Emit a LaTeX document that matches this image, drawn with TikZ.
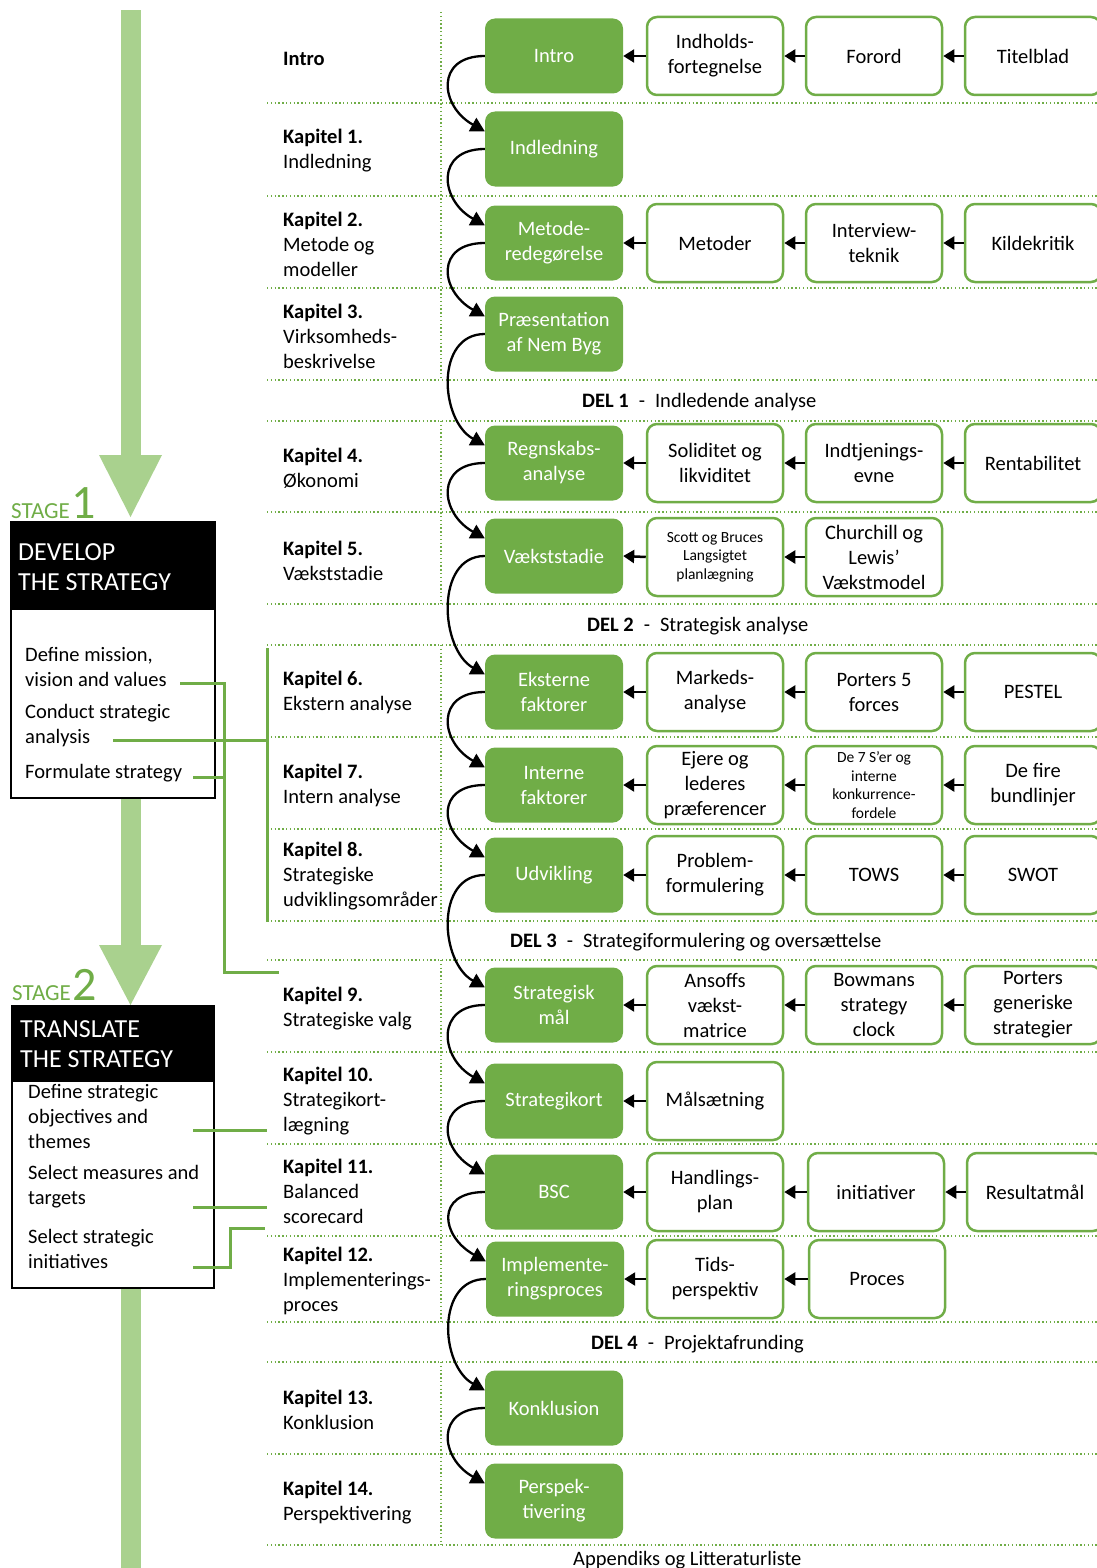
\documentclass[tikz,border=0pt]{standalone}
\usepackage{fontspec}
\setmainfont{Carlito}
\usetikzlibrary{arrows.meta,calc}
\definecolor{G}{HTML}{70AD47}
\definecolor{LG}{HTML}{A9D18E}

\begin{document}
\begin{tikzpicture}[x=1pt,y=-1pt,
  every node/.style={font=\fontsize{20.5}{25}\selectfont},
  gbox/.style={rectangle,rounded corners=10pt,fill=G,text=white,minimum width=138pt,minimum height=75pt,align=center,inner sep=0pt},
  wbox/.style={rectangle,rounded corners=10pt,draw=G,line width=2.5pt,fill=white,minimum width=136pt,minimum height=78pt,align=center,inner sep=0pt},
  smalltext/.style={font=\fontsize{15.5}{18.5}\selectfont},
  chap/.style={anchor=west,align=left,inner sep=0pt},
  dotline/.style={G,line width=1.8pt,dash pattern=on 1.4pt off 2.4pt},
  link/.style={G,line width=3pt},
  harr/.style={line width=2.5pt,-{Triangle[length=11pt,width=13pt]}},
  carr/.style={line width=2.3pt,-{Triangle[length=14pt,width=15pt]}},
  stagebox/.style={draw=black,line width=2pt},
  headtext/.style={anchor=base west,text=white,inner sep=0pt,font=\fontsize{26}{30}\selectfont},
  stagetxt/.style={anchor=base west,text=G,inner sep=0pt,font=\fontsize{23}{26}\selectfont},
  stagenum/.style={anchor=base west,text=G,inner sep=0pt,font=\fontsize{48}{50}\selectfont},
  deltext/.style={anchor=west,inner sep=0pt}
]
\useasboundingbox (0,0) rectangle (1097,1568);

% ---- big process arrow on the left
\fill[LG] (121,10) rectangle (141,456);
\fill[LG] (99,455) -- (162,455) -- (130.5,517) -- cycle;
\fill[LG] (121,797) rectangle (141,946);
\fill[LG] (99,945) -- (162,945) -- (130.5,1005) -- cycle;
\fill[LG] (121,1287) rectangle (141,1568);

% ---- stage labels
\node[stagetxt] (st1) at (11,518) {STAGE};
\node[stagenum] (sn1) at (71,518) {1};
\node[stagetxt] (st2) at (12,1000) {STAGE};
\node[stagenum] (sn2) at (72,1000) {2};

% ---- stage 1 box
\fill[white] (11,522) rectangle (215,798);
\fill[black] (11,522) rectangle (215,610);
\draw[stagebox] (11,522) rectangle (215,798);
\node[headtext] (h1a) at (18,560) {DEVELOP};
\node[headtext] (h1b) at (18,590) {THE STRATEGY};
\node[chap] (i1) at (25,667) {Define mission,\\vision and values};
\node[chap] (i2) at (25,726) {Conduct strategic\\analysis};
\node[chap] (i3) at (25,773) {Formulate strategy};

% ---- stage 2 box
\fill[white] (12,1006) rectangle (214,1288);
\fill[black] (12,1006) rectangle (214,1082);
\draw[stagebox] (12,1006) rectangle (214,1288);
\node[headtext] (h2a) at (20,1037) {TRANSLATE};
\node[headtext] (h2b) at (20,1067) {THE STRATEGY};
\node[chap] (j1) at (28,1116) {Define strategic\\objectives and\\themes};
\node[chap] (j2) at (28,1187) {Select measures and\\targets};
\node[chap] (j3) at (28,1249) {Select strategic\\initiatives};

% ---- dotted grid
\foreach \y in {103,196,288,380,421,512,604,645,737,829,921,960,1052,1144,1236,1322,1362,1454,1545}
  \draw[dotline] (267,\y) -- (1097,\y);
\foreach \a/\b in {12/380,421/604,645/921,960/1322,1362/1545}
  \draw[dotline] (441,\a) -- (441,\b);

% ---- links from the stage steps to the chapters
\coordinate (p1) at (180,683);
\coordinate (p2) at (193,777);
\coordinate (p3) at (113,740);
\coordinate (p4) at (193,1130);
\coordinate (p5) at (193,1207);
\coordinate (p6) at (193,1267);
\draw[link] (p1) -- (224,683) -- (224,972) -- (279,972);
\draw[link] (p2) -- (224,777);
\draw[link] (p3) -- (267,740);
\draw[link] (267,648) -- (267,922);
\draw[link] (p4) -- (267,1130);
\draw[link] (p5) -- (267,1207);
\draw[link] (p6) -- (230,1267) -- (230,1228) -- (265,1228);

% ---- chapter column
\node[chap] (t0) at (283,59) {\textbf{Intro}};
\node[chap] (t1) at (283,151) {\textbf{Kapitel 1.}\\Indledning};
\node[chap] (t2) at (283,244) {\textbf{Kapitel 2.}\\Metode og\\modeller};
\node[chap] (t3) at (283,336) {\textbf{Kapitel 3.}\\Virksomheds-\\beskrivelse};
\node[chap] (t4) at (283,468) {\textbf{Kapitel 4.}\\Økonomi};
\node[chap] (t5) at (283,561) {\textbf{Kapitel 5.}\\Vækststadie};
\node[chap] (t6) at (283,692) {\textbf{Kapitel 6.}\\Ekstern analyse};
\node[chap] (t7) at (283,785) {\textbf{Kapitel 7.}\\Intern analyse};
\node[chap] (t8) at (283,876) {\textbf{Kapitel 8.}\\Strategiske\\udviklingsområder};
\node[chap] (t9) at (283,1009) {\textbf{Kapitel 9.}\\Strategiske valg};
\node[chap] (t10) at (283,1101) {\textbf{Kapitel 10.}\\Strategikort-\\lægning};
\node[chap] (t11) at (283,1191) {\textbf{Kapitel 11.}\\Balanced\\scorecard};
\node[chap] (t12) at (283,1281) {\textbf{Kapitel 12.}\\Implementerings-\\proces};
\node[chap] (t13) at (283,1410) {\textbf{Kapitel 13.}\\Konklusion};
\node[chap] (t14) at (283,1503) {\textbf{Kapitel 14.}\\Perspektivering};

% ---- part headings
\node[deltext] (d1) at (582,402) {\textbf{DEL 1}\hspace{10pt}-\hspace{10pt}Indledende analyse};
\node[deltext] (d2) at (587,626) {\textbf{DEL 2}\hspace{10pt}-\hspace{10pt}Strategisk analyse};
\node[deltext] (d3) at (510,942) {\textbf{DEL 3}\hspace{10pt}-\hspace{10pt}Strategiformulering og oversættelse};
\node[deltext] (d4) at (591,1344) {\textbf{DEL 4}\hspace{10pt}-\hspace{10pt}Projektafrunding};
\node[deltext] (ap) at (573,1560) {Appendiks og Litteraturliste};

% ---- chapter boxes
\node[gbox] (g0) at (554,56) {Intro};
\node[gbox] (g1) at (554,149) {Indledning};
\node[gbox] (g2) at (554,243) {Metode-\\redegørelse};
\node[gbox] (g3) at (554,334) {Præsentation\\af Nem Byg};
\node[gbox] (g4) at (554,463) {Regnskabs-\\analyse};
\node[gbox] (g5) at (554,556) {Vækststadie};
\node[gbox] (g6) at (554,692) {Eksterne\\faktorer};
\node[gbox] (g7) at (554,785) {Interne\\faktorer};
\node[gbox] (g8) at (554,875) {Udvikling};
\node[gbox] (g9) at (554,1005) {Strategisk\\mål};
\node[gbox] (g10) at (554,1101) {Strategikort};
\node[gbox] (g11) at (554,1192) {BSC};
\node[gbox] (g12) at (555,1279) {Implemente-\\ringsproces};
\node[gbox] (g13) at (554,1408) {Konklusion};
\node[gbox] (g14) at (554,1501) {Perspek-\\tivering};

% ---- model boxes
\node[wbox] (a0) at (715,56) {Indholds-\\fortegnelse};
\node[wbox] (b0) at (874,56) {Forord};
\node[wbox] (c0) at (1033,56) {Titelblad};

\node[wbox] (a2) at (715,243) {Metoder};
\node[wbox] (b2) at (874,243) {Interview-\\teknik};
\node[wbox] (c2) at (1033,243) {Kildekritik};

\node[wbox] (a4) at (715,463) {Soliditet og\\likviditet};
\node[wbox] (b4) at (874,463) {Indtjenings-\\evne};
\node[wbox] (c4) at (1033,463) {Rentabilitet};

\node[wbox,smalltext] (a5) at (715,557) {Scott og Bruces\\Langsigtet\\planlægning};
\node[wbox] (b5) at (874,557) {Churchill og\\Lewis’\\Vækstmodel};

\node[wbox] (a6) at (715,692) {Markeds-\\analyse};
\node[wbox] (b6) at (874,692) {Porters 5\\forces};
\node[wbox] (c6) at (1033,692) {PESTEL};

\node[wbox] (a7) at (715,785) {Ejere og\\lederes\\præferencer};
\node[wbox,smalltext] (b7) at (874,785) {De 7 S’er og\\interne\\konkurrence-\\fordele};
\node[wbox] (c7) at (1033,785) {De fire\\bundlinjer};

\node[wbox] (a8) at (715,875) {Problem-\\formulering};
\node[wbox] (b8) at (874,875) {TOWS};
\node[wbox] (c8) at (1033,875) {SWOT};

\node[wbox] (a9) at (715,1005) {Ansoffs\\vækst-\\matrice};
\node[wbox] (b9) at (874,1005) {Bowmans\\strategy\\clock};
\node[wbox] (c9) at (1033,1005) {Porters\\generiske\\strategier};

\node[wbox] (a10) at (715,1101) {Målsætning};

\node[wbox] (a11) at (715,1192) {Handlings-\\plan};
\node[wbox] (b11) at (876,1192) {initiativer};
\node[wbox] (c11) at (1035,1192) {Resultatmål};

\node[wbox] (a12) at (715,1279) {Tids-\\perspektiv};
\node[wbox] (b12) at (877,1279) {Proces};

% ---- arrows between model boxes
\foreach \r in {0,2,4,6,7,8,9,11} {
  \draw[harr] (a\r.west) -- (g\r.east);
  \draw[harr] (b\r.west) -- (a\r.east);
  \draw[harr] (c\r.west) -- (b\r.east);
}
\draw[harr] (a5.west) -- (g5.east);
\draw[harr] (b5.west) -- (a5.east);
\draw[harr] (a10.west) -- (g10.east);
\draw[harr] (a12.west) -- (g12.east);
\draw[harr] (b12.west) -- (a12.east);

% ---- reading order between chapters
\foreach \a/\b in {0/1,1/2,2/3,3/4,4/5,5/6,6/7,7/8,8/9,9/10,10/11,11/12,12/13,13/14}
  \draw[carr] (g\a.west) .. controls ($(g\a.west)+(-50,0)$) and ($(g\b.north west)+(-45,-5)$) .. ($(g\b.north west)+(0,20)$);

\end{tikzpicture}
\end{document}
